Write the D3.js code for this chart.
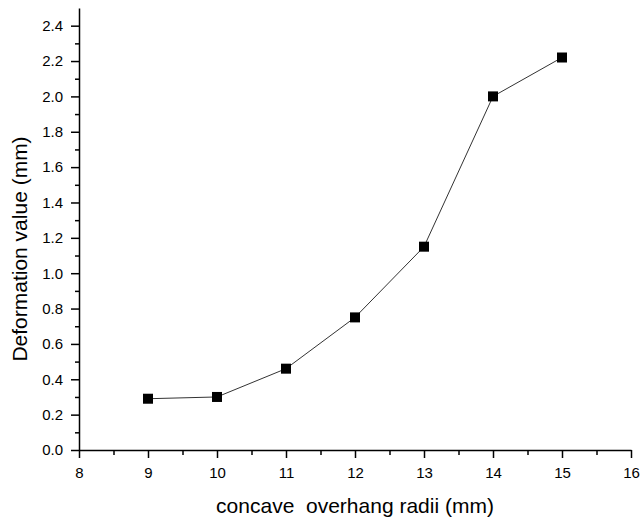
<!DOCTYPE html>
<html>
<head>
<meta charset="utf-8">
<script src="https://cdn.jsdelivr.net/npm/d3@7"></script>
<style>
  body { margin: 0; background: #fff; }
  text { font-family: "Liberation Sans", Arial, sans-serif; fill: #000; }
</style>
</head>
<body>
<div id="chart"></div>
<script>
const radii = [9, 10, 11, 12, 13, 14, 15];
const deformation = [0.29, 0.30, 0.46, 0.75, 1.15, 2.00, 2.22];
const xTicks = [8, 9, 10, 11, 12, 13, 14, 15, 16];
const yTicks = [0, 0.2, 0.4, 0.6, 0.8, 1.0, 1.2, 1.4, 1.6, 1.8, 2.0, 2.2, 2.4];

const width = 642, height = 522;
const margin = { top: 8, right: 11, bottom: 72, left: 79 };

const svg = d3.select("#chart")
  .append("svg")
  .attr("width", width)
  .attr("height", height);

const x = d3.scaleLinear().domain([8, 16]).range([margin.left, width - margin.right]);
const y = d3.scaleLinear().domain([0, 2.5]).range([height - margin.bottom, margin.top]);

// minor ticks
svg.append("g")
  .attr("transform", `translate(0, ${y(0)})`)
  .call(d3.axisBottom(x).tickValues(d3.range(8.5, 16, 1)).tickSize(5).tickFormat(""))
  .call(g => g.select(".domain").remove())
  .selectAll("line").attr("stroke-width", 1.5);

svg.append("g")
  .attr("transform", `translate(${x(8)}, 0)`)
  .call(d3.axisLeft(y).tickValues(d3.range(0.1, 2.5, 0.2)).tickSize(4).tickFormat(""))
  .call(g => g.select(".domain").remove())
  .selectAll("line").attr("stroke-width", 1.5);

// major axes
const xAxis = svg.append("g")
  .attr("transform", `translate(0, ${y(0)})`)
  .call(d3.axisBottom(x).tickValues(xTicks).tickSize(8).tickSizeOuter(0).tickPadding(9).tickFormat(d3.format("d")));
xAxis.select(".domain").attr("stroke-width", 1.5);
xAxis.selectAll("line").attr("stroke-width", 1.5);
xAxis.selectAll("text").style("font-size", "15px");

const yAxis = svg.append("g")
  .attr("transform", `translate(${x(8)}, 0)`)
  .call(d3.axisLeft(y).tickValues(yTicks).tickSize(8).tickSizeOuter(0).tickPadding(8).tickFormat(d3.format(".1f")));
yAxis.select(".domain").attr("stroke-width", 1.5);
yAxis.selectAll("line").attr("stroke-width", 1.5);
yAxis.selectAll("text").style("font-size", "15px");

const points = radii.map((r, i) => ({ r, v: deformation[i] }));

svg.append("path")
  .datum(points)
  .attr("fill", "none")
  .attr("stroke", "#333")
  .attr("stroke-width", 1)
  .attr("d", d3.line().x(d => x(d.r)).y(d => y(d.v)));

const s = 10;
svg.selectAll(".pt")
  .data(points)
  .enter()
  .append("rect")
  .attr("class", "pt")
  .attr("x", d => x(d.r) - s / 2)
  .attr("y", d => y(d.v) - s / 2)
  .attr("width", s)
  .attr("height", s)
  .attr("fill", "#000");

svg.append("text")
  .attr("x", (x(8) + x(16)) / 2)
  .attr("y", 513)
  .attr("text-anchor", "middle")
  .style("font-size", "21px")
  .style("white-space", "pre")
  .text("concave  overhang radii (mm)");

svg.append("text")
  .attr("transform", `translate(27, 249) rotate(-90)`)
  .attr("text-anchor", "middle")
  .style("font-size", "21px")
  .text("Deformation value (mm)");
</script>
</body>
</html>
